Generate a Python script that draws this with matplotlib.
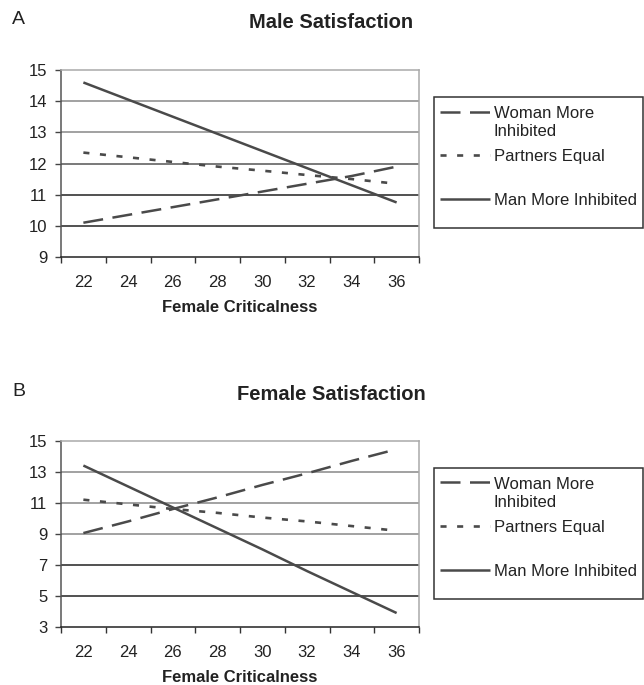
import matplotlib.pyplot as plt
from matplotlib.lines import Line2D
from matplotlib.patches import Rectangle

plt.rcParams['font.family'] = ['Liberation Sans', 'DejaVu Sans']

criticalness = [22, 24, 26, 28, 30, 32, 34, 36]
series_names = ['Woman More\nInhibited', 'Partners Equal', 'Man More Inhibited']

# panel A - male satisfaction
male_woman_more = [10.10, 10.35, 10.60, 10.85, 11.10, 11.35, 11.60, 11.90]
male_equal = [12.35, 12.20, 12.05, 11.90, 11.77, 11.63, 11.50, 11.35]
male_man_more = [14.60, 14.05, 13.50, 12.95, 12.40, 11.85, 11.30, 10.75]

# panel B - female satisfaction
female_woman_more = [9.05, 9.80, 10.60, 11.35, 12.15, 12.90, 13.70, 14.45]
female_equal = [11.20, 10.90, 10.60, 10.35, 10.05, 9.80, 9.50, 9.20]
female_man_more = [13.40, 12.05, 10.70, 9.35, 8.00, 6.60, 5.25, 3.90]

W, H = 644, 685
fig = plt.figure(figsize=(W / 100, H / 100), dpi=100)


def fx(px):
    return px / W


def fy(py):
    return 1 - py / H


LINE = '#4a4a4a'
styles = [dict(dashes=(8.0, 3.8), lw=1.8),
          dict(dashes=(2.3, 4.0), lw=1.9),
          dict(ls='-', lw=1.8)]


def panel(top, bottom, ylim, yticks, grid_colors, series, title, title_y,
          letter, letter_y, leg_top, leg_bot, entry_y):
    ax = fig.add_axes([fx(61), fy(bottom), fx(419) - fx(61), fy(top) - fy(bottom)])
    xs = list(range(len(criticalness)))
    for vals, st in zip(series, styles):
        ax.plot(xs, vals, color=LINE, solid_capstyle='butt',
                dash_capstyle='butt', zorder=3, **st)
    ax.set_xlim(-0.5, len(criticalness) - 0.5)
    ax.set_ylim(*ylim)
    ax.set_yticks(yticks)
    ax.set_xticks(xs)
    ax.set_xticklabels([str(c) for c in criticalness])
    ax.set_xticks([i - 0.5 for i in range(len(criticalness) + 1)], minor=True)
    ax.tick_params(axis='x', which='major', length=0, pad=13, labelsize=12,
                   labelcolor='#222')
    ax.tick_params(axis='x', which='minor', length=4.3, width=1, color='#333')
    ax.tick_params(axis='y', length=4.3, width=1, pad=5.5, labelsize=12,
                   color='#444', labelcolor='#222')
    for yv, c in zip(yticks[1:-1], grid_colors):
        ax.axhline(yv, color=c, lw=1.1, zorder=1)
    ax.spines['left'].set_color('#555')
    ax.spines['bottom'].set_color('#222')
    ax.spines['top'].set_color('#aaa')
    ax.spines['right'].set_color('#aaa')
    for s in ax.spines.values():
        s.set_linewidth(1.1)
    ax.set_xlabel('Female Criticalness', fontsize=12, fontweight='bold',
                  color='#222')
    ax.xaxis.set_label_coords(0.5, -51 / (bottom - top))
    ax.xaxis.label.set_va('center')
    fig.text(fx(331), fy(title_y), title, ha='center', va='center',
             fontsize=14.5, fontweight='bold', color='#222')
    fig.text(fx(12), fy(letter_y), letter, ha='left', va='center',
             fontsize=14, color='#222')

    # legend box drawn by hand
    fig.patches.append(Rectangle((fx(434), fy(leg_bot)), fx(642.5) - fx(434),
                                 fy(leg_top) - fy(leg_bot), transform=fig.transFigure,
                                 fill=False, edgecolor='#333', lw=1.1))
    for name, st, yy in zip(series_names, styles, entry_y):
        fig.lines.append(Line2D([fx(440), fx(490)], [fy(yy), fy(yy)],
                                transform=fig.transFigure, color=LINE,
                                solid_capstyle='butt', dash_capstyle='butt', **st))
        fig.text(fx(494), fy(yy - 5.5), name, ha='left', va='top', fontsize=12,
                 linespacing=1.25, color='#222')
    return ax


panel(70, 257, (9, 15), list(range(9, 16)),
      ['#222', '#222', '#555', '#888', '#888'],
      [male_woman_more, male_equal, male_man_more],
      'Male Satisfaction', 23, 'A', 19, 97, 228, [111.7, 155, 198.6])

panel(440.7, 627, (3, 15), list(range(3, 16, 2)),
      ['#222', '#222', '#888', '#888', '#888'],
      [female_woman_more, female_equal, female_man_more],
      'Female Satisfaction', 394, 'B', 391, 468.3, 599, [482.3, 525.6, 569.6])

fig.savefig('out.png', dpi=100)
